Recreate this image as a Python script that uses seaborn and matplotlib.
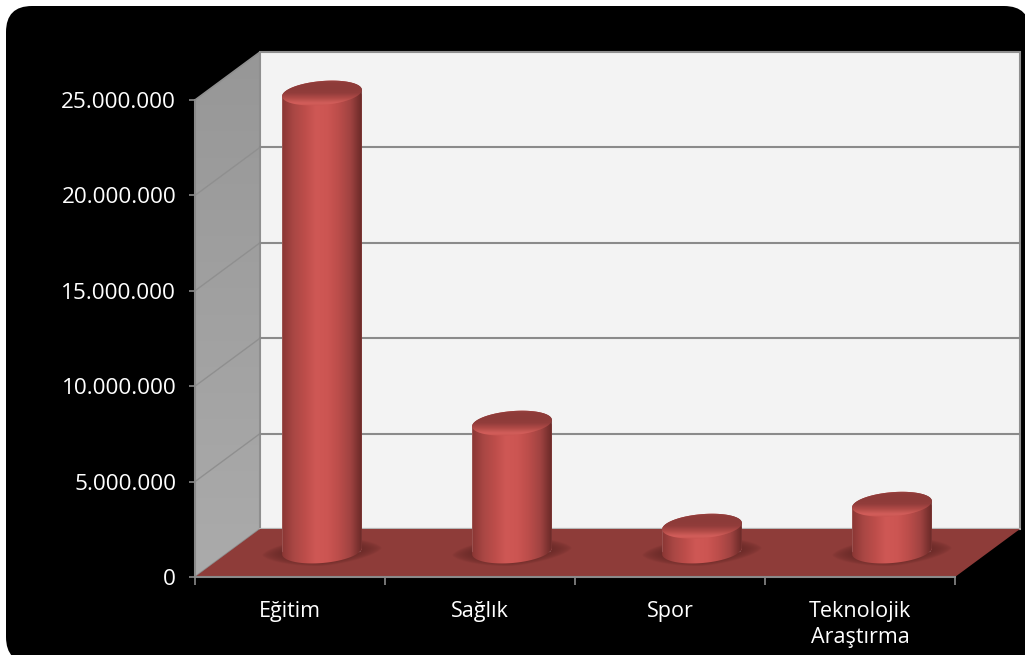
import numpy as np
import matplotlib
matplotlib.use("Agg")
import matplotlib.pyplot as plt
import seaborn as sns
from matplotlib.colors import LinearSegmentedColormap
from matplotlib.lines import Line2D
from matplotlib.patches import FancyBboxPatch, Polygon
from matplotlib.ticker import FuncFormatter, FixedLocator
from matplotlib.transforms import IdentityTransform

categories = ["Eğitim", "Sağlık", "Spor", "Teknolojik\nAraştırma"]
values = [24000000, 6700000, 1300000, 2450000]
y_ticks = [0, 5000000, 10000000, 15000000, 20000000, 25000000]

W, H = 1025, 655
DEPTH = (65, 48)
BAR_SHIFT = (32, 26)
GRID = "#8a8a8a"
IDENT = IdentityTransform()

sns.set_theme(style="white")
plt.rcParams["font.family"] = ["Open Sans", "DejaVu Sans"]

fig = plt.figure(figsize=(W / 100, H / 100), dpi=100, facecolor="white")
fig.add_artist(FancyBboxPatch((6, -8), 1024, 657, boxstyle="round,pad=0,rounding_size=26",
                              transform=IDENT, facecolor="black", edgecolor="none", zorder=-1))

ax = fig.add_axes([195 / W, 78 / H, 760 / W, 477 / H])
ax.set_facecolor("none")
sns.barplot(x=categories, y=values, width=0.42, color="#c9524f", saturation=1, ax=ax, zorder=4)
ax.set_xlim(-0.5, 3.5)
ax.set_ylim(0, 25000000)
ax.set_xlabel("")
ax.set_ylabel("")
XL, YL = ax.get_xlim(), ax.get_ylim()


def pt(x, y, k=0.0, shift=None):
    px, py = ax.transData.transform((x, y))
    if shift is not None:
        return px + shift[0], py + shift[1]
    return px + DEPTH[0] * k, py + DEPTH[1] * k


def gradient(colors, extent, clip, zorder, vertical=False):
    cmap = LinearSegmentedColormap.from_list("g", colors)
    arr = np.linspace(0, 1, 256)
    arr = arr[:, None] if vertical else arr[None, :]
    im = ax.imshow(arr, cmap=cmap, extent=extent, origin="lower", aspect="auto",
                   transform=IDENT, zorder=zorder, interpolation="bilinear")
    im.set_clip_path(clip)
    im.set_clip_box(fig.bbox)
    return im


# Walls and floor
x0, x1 = XL
y0, y1 = YL
side = Polygon([pt(x0, y0), pt(x0, y1), pt(x0, y1, 1), pt(x0, y0, 1)], closed=True,
               transform=IDENT, facecolor="none", edgecolor="#8f8f8f", lw=1.2, zorder=1.4, clip_on=False)
ax.add_patch(side)
gradient(["#ababab", "#979797"], (pt(x0, 0)[0], pt(x0, 0, 1)[0], pt(x0, 0)[1], pt(x0, y1, 1)[1]), side, 1, vertical=True)
back = Polygon([pt(x0, y0, 1), pt(x0, y1, 1), pt(x1, y1, 1), pt(x1, y0, 1)], closed=True,
               transform=IDENT, facecolor="#f3f3f3", edgecolor="#8f8f8f", lw=1.5, zorder=1, clip_on=False)
ax.add_patch(back)
floor = Polygon([pt(x0, 0), pt(x0, 0, 1), pt(x1, 0, 1), pt(x1, 0)], closed=True,
                transform=IDENT, facecolor="#8e3c39", edgecolor="none", zorder=1.6, clip_on=False)
ax.add_patch(floor)
for t in y_ticks[1:-1]:
    a, b, c = pt(x0, t), pt(x0, t, 1), pt(x1, t, 1)
    ax.add_line(Line2D([a[0], b[0]], [a[1], b[1]], transform=IDENT, color="#8f8f8f",
                       lw=1.0, zorder=1.5, clip_on=False))
    ax.add_line(Line2D([b[0], c[0]], [b[1], c[1]], transform=IDENT, color=GRID,
                       lw=1.5, zorder=1.5, clip_on=False))
a, b = pt(x0, 0, 1), pt(x1, 0, 1)
ax.add_line(Line2D([a[0], b[0]], [a[1], b[1]], transform=IDENT, color="#b5b5b5", lw=1.5, zorder=1.55, clip_on=False))

# Cylinders
A, B, ROT = 40.0, 12.0, np.deg2rad(5)


def ell(cx, cy, th):
    ex, ey = A * np.cos(th), B * np.sin(th)
    return np.column_stack([cx + ex * np.cos(ROT) - ey * np.sin(ROT),
                            cy + ex * np.sin(ROT) + ey * np.cos(ROT)])


BODY = ["#8a3634", "#a94744", "#bd4d4a", "#cf5855", "#cc5552", "#bb4d4a", "#a04341", "#692927"]
CAP = ["#c24e4b", "#d25e5a", "#b04a47", "#923d3b", "#8d3b39", "#8f3c3a", "#a04644"]

yy, xx = np.mgrid[-1:1:120j, -1:1:200j]
shadow = np.zeros(xx.shape + (4,))
shadow[..., :3] = matplotlib.colors.to_rgb("#4e1c1a")
shadow[..., 3] = np.clip(1.0 - (np.abs(xx) ** 1.6 + np.abs(yy - 0.25 * xx) ** 1.6) ** (1 / 1.6), 0, 1) ** 0.6

for bar, value in zip(ax.patches, values):
    xc = bar.get_x() + bar.get_width() / 2
    bx, by = pt(xc, 0, shift=BAR_SHIFT)
    tx, ty = pt(xc, value, shift=BAR_SHIFT)
    im = ax.imshow(shadow, extent=(bx - 60, bx + 60, by - 15, by + 14), origin="lower", aspect="auto",
                   transform=IDENT, zorder=2, interpolation="bilinear")
    im.set_clip_box(fig.bbox)

    outline = np.vstack([ell(bx, by, np.linspace(np.pi, 2 * np.pi, 60)),
                         ell(tx, ty, np.linspace(0, np.pi, 60))])
    body = Polygon(outline, closed=True, transform=IDENT, facecolor="none", edgecolor="none", clip_on=False)
    ax.add_patch(body)
    bar.set_transform(IDENT)
    bar.set_xy((bx - A, by))
    bar.set_width(2 * A)
    bar.set_height(ty - by)
    bar.set_clip_path(body)
    bar.set_clip_box(fig.bbox)
    gradient(BODY, (bx - A, bx + A, by - B - 4, ty + B + 4), body, 5)
    cap = Polygon(ell(tx, ty, np.linspace(0, 2 * np.pi, 120)), closed=True, transform=IDENT,
                  facecolor="none", edgecolor="none", clip_on=False)
    ax.add_patch(cap)
    gradient(CAP, (tx - A, tx + A, ty - B - 3, ty + B + 3), cap, 6, vertical=True)

# Axes
for s in ("top", "right"):
    ax.spines[s].set_visible(False)
for s in ("left", "bottom"):
    ax.spines[s].set_visible(True)
    ax.spines[s].set_color(GRID)
    ax.spines[s].set_linewidth(1.5)
    ax.spines[s].set_zorder(3)
ax.set_yticks(y_ticks)
ax.yaxis.set_major_formatter(FuncFormatter(lambda v, _: f"{v:,.0f}".replace(",", ".")))
ax.tick_params(axis="y", left=True, length=4.5, width=1.2, color=GRID, labelcolor="white",
               labelsize=16.2, pad=9)
ax.set_xticks(range(len(categories)))
ax.set_xticklabels(categories, linespacing=1.3)
ax.xaxis.set_minor_locator(FixedLocator(np.arange(-0.5, 4, 1)))
ax.tick_params(axis="x", which="major", bottom=False, length=0, labelcolor="white", labelsize=15.5, pad=17.5)
ax.tick_params(axis="x", which="minor", bottom=True, length=6, width=1.2, color=GRID)

ax.set_xlim(XL)
ax.set_ylim(YL)
fig.savefig("out.png", dpi=100, facecolor="white")
